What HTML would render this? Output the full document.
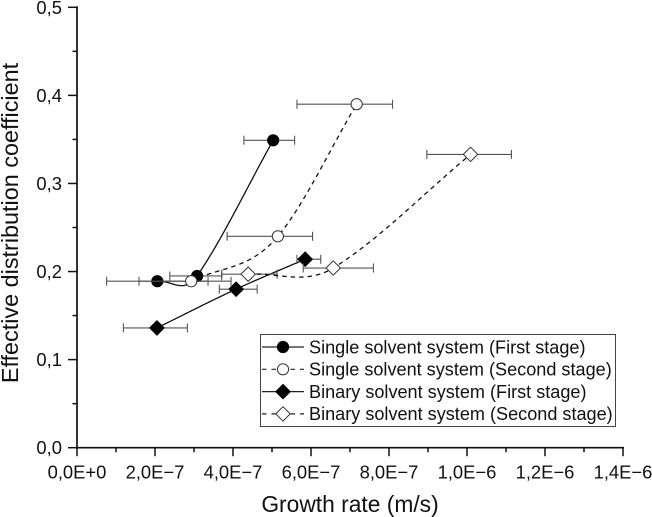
<!DOCTYPE html>
<html lang="en">
<head>
<meta charset="utf-8">
<title>Effective distribution coefficient vs growth rate</title>
<style>
html,body{margin:0;padding:0;background:#fff;}
#chart{display:block;width:652px;height:517px;}
text{font-family:"Liberation Sans",Arial,sans-serif;fill:#111;}
</style>
</head>
<body>
<svg id="chart" xmlns="http://www.w3.org/2000/svg" width="652" height="517" viewBox="0 0 652 517"></svg>
<script>
const xTickValues = [0, 2e-7, 4e-7, 6e-7, 8e-7, 1e-6, 1.2e-6, 1.4e-6];
const xTickLabels = ["0,0E+0", "2,0E\u22127", "4,0E\u22127", "6,0E\u22127", "8,0E\u22127", "1,0E\u22126", "1,2E\u22126", "1,4E\u22126"];
const yTickValues = [0, 0.1, 0.2, 0.3, 0.4, 0.5];
const yTickLabels = ["0,0", "0,1", "0,2", "0,3", "0,4", "0,5"];

const singleFirstX = [2.06e-7, 3.08e-7, 5.03e-7];
const singleFirstY = [0.189, 0.195, 0.349];
const singleFirstLow = [0.76e-7, 2.38e-7, 4.28e-7];
const singleFirstHigh = [3.36e-7, 3.71e-7, 5.58e-7];

const singleSecondX = [2.93e-7, 5.15e-7, 7.17e-7];
const singleSecondY = [0.189, 0.24, 0.39];
const singleSecondLow = [1.59e-7, 3.85e-7, 5.64e-7];
const singleSecondHigh = [3.95e-7, 6.04e-7, 8.09e-7];

const binaryFirstX = [2.05e-7, 4.08e-7, 5.85e-7];
const binaryFirstY = [0.136, 0.18, 0.214];
const binaryFirstLow = [1.19e-7, 3.65e-7, 5.64e-7];
const binaryFirstHigh = [2.83e-7, 4.62e-7, 6.25e-7];

const binarySecondX = [4.39e-7, 6.57e-7, 1.009e-6];
const binarySecondY = [0.197, 0.204, 0.333];
const binarySecondLow = [3.71e-7, 5.8e-7, 8.97e-7];
const binarySecondHigh = [5.13e-7, 7.6e-7, 1.114e-6];

const legendLabels = [
  "Single solvent system (First stage)",
  "Single solvent system (Second stage)",
  "Binary solvent system (First stage)",
  "Binary solvent system (Second stage)"
];
const axisXTitle = "Growth rate (m/s)";
const axisYTitle = "Effective distribution coefficient";

const NS = "http://www.w3.org/2000/svg";
const svg = document.getElementById("chart");
const plotLeft = 77, plotRight = 623, plotTop = 7.3, plotBottom = 447.7;
function sx(v) { return plotLeft + (v / 1.4e-6) * (plotRight - plotLeft); }
function sy(v) { return plotBottom - (v / 0.5) * (plotBottom - plotTop); }

function el(tag, attrs, parent) {
  const n = document.createElementNS(NS, tag);
  for (const k in attrs) n.setAttribute(k, attrs[k]);
  (parent || svg).appendChild(n);
  return n;
}

/* Hermite curve y(x) through the points; interior tangents blend the neighbouring
   chord slopes by weight w, end tangents follow the end chords */
function curvePath(xs, ys, w) {
  const n = xs.length, slopes = [], tangents = [];
  for (let i = 0; i < n - 1; i++) slopes.push((ys[i + 1] - ys[i]) / (xs[i + 1] - xs[i]));
  tangents.push(slopes[0]);
  for (let i = 1; i < n - 1; i++) tangents.push(w * slopes[i - 1] + (1 - w) * slopes[i]);
  tangents.push(slopes[n - 2]);
  let d = "";
  for (let i = 0; i < n - 1; i++) {
    const h = xs[i + 1] - xs[i];
    for (let s = 0; s <= 30; s++) {
      const t = s / 30, t2 = t * t, t3 = t2 * t;
      const x = xs[i] + t * h;
      const y = (2 * t3 - 3 * t2 + 1) * ys[i] + (t3 - 2 * t2 + t) * h * tangents[i] +
        (-2 * t3 + 3 * t2) * ys[i + 1] + (t3 - t2) * h * tangents[i + 1];
      d += (d ? "L" : "M") + x.toFixed(2) + " " + y.toFixed(2);
    }
  }
  return d;
}

function marker(kind, filled, cx, cy, parent, name) {
  const fill = filled ? "#000" : "#fff";
  let m;
  if (kind === "circle") {
    m = el("circle", { cx: cx, cy: cy, r: 5.6, fill: fill, stroke: filled ? "#000" : "#333", "stroke-width": 1 }, parent);
  } else {
    const r = 7.2;
    const pts = (cx) + "," + (cy - r) + " " + (cx + r) + "," + cy + " " + cx + "," + (cy + r) + " " + (cx - r) + "," + cy;
    m = el("polygon", { points: pts, fill: fill, stroke: filled ? "#000" : "#333", "stroke-width": 1 }, parent);
  }
  
  
  return m;
}

const seriesList = [
  { key: "single-first", xs: singleFirstX, ys: singleFirstY, lo: singleFirstLow, hi: singleFirstHigh, kind: "circle", filled: true, dash: null, w: 0.2 },
  { key: "single-second", xs: singleSecondX, ys: singleSecondY, lo: singleSecondLow, hi: singleSecondHigh, kind: "circle", filled: false, dash: "4.5 4", w: 0.42 },
  { key: "binary-first", xs: binaryFirstX, ys: binaryFirstY, lo: binaryFirstLow, hi: binaryFirstHigh, kind: "diamond", filled: true, dash: null, w: 0.5 },
  { key: "binary-second", xs: binarySecondX, ys: binarySecondY, lo: binarySecondLow, hi: binarySecondHigh, kind: "diamond", filled: false, dash: "4.5 4", w: 0.28 }
];

/* axes */
const xAxis = el("g", {});


const yAxis = el("g", {});



const xAxisLine = el("line", { x1: plotLeft - 1, x2: plotRight + 1, y1: plotBottom, y2: plotBottom, stroke: "#111", "stroke-width": 1.7 }, xAxis);


const yAxisLine = el("line", { x1: plotLeft, x2: plotLeft, y1: plotTop - 1, y2: plotBottom + 1, stroke: "#111", "stroke-width": 1.7 }, yAxis);



xTickValues.forEach(function (v, i) {
  const x = sx(v);
  const t = el("line", { x1: x, x2: x, y1: plotBottom, y2: plotBottom + 8.5, stroke: "#111", "stroke-width": 1.5 }, xAxis);
  
  
  const l = el("text", { x: x, y: plotBottom + 31, "text-anchor": "middle", "font-size": 18.4 }, xAxis);
  l.textContent = xTickLabels[i];
  
  
  if (i < xTickValues.length - 1) {
    const mx = sx((v + xTickValues[i + 1]) / 2);
    const mt = el("line", { x1: mx, x2: mx, y1: plotBottom, y2: plotBottom + 4.5, stroke: "#111", "stroke-width": 1.5 }, xAxis);
    
    
  }
});

yTickValues.forEach(function (v, i) {
  const y = sy(v);
  const t = el("line", { x1: plotLeft - 9, x2: plotLeft, y1: y, y2: y, stroke: "#111", "stroke-width": 1.5 }, yAxis);
  
  
  const l = el("text", { x: plotLeft - 15, y: y + 6.5, "text-anchor": "end", "font-size": 18.4 }, yAxis);
  l.textContent = yTickLabels[i];
  
  
  if (i < yTickValues.length - 1) {
    const my = sy((v + yTickValues[i + 1]) / 2);
    const mt = el("line", { x1: plotLeft - 4.5, x2: plotLeft, y1: my, y2: my, stroke: "#111", "stroke-width": 1.5 }, yAxis);
    
    
  }
});

const xTitle = el("text", { x: 350, y: 512, "text-anchor": "middle", "font-size": 22.8 });
xTitle.textContent = axisXTitle;


const yTitle = el("text", { x: 0, y: 0, "text-anchor": "middle", "font-size": 23.4, transform: "translate(18 223) rotate(-90)" });
yTitle.textContent = axisYTitle;



/* error bars, curves, markers */
seriesList.forEach(function (s) {
  const g = el("g", {});
  
  
  s.xs.forEach(function (v, i) {
    const y = sy(s.ys[i]), a = sx(s.lo[i]), b = sx(s.hi[i]);
    const e = el("path", { d: "M" + a + " " + y + "H" + b + "M" + a + " " + (y - 4.5) + "V" + (y + 4.5) + "M" + b + " " + (y - 4.5) + "V" + (y + 4.5), fill: "none", stroke: "#555", "stroke-width": 1.1 }, g);
    
    
  });
  const attrs = { d: curvePath(s.xs.map(sx), s.ys.map(sy), s.w), fill: "none", stroke: "#111", "stroke-width": 1.3 };
  if (s.dash) attrs["stroke-dasharray"] = s.dash;
  const c = el("path", attrs, g);
  
  
  s.g = g;
});
seriesList.forEach(function (s) {
  s.xs.forEach(function (v, i) {
    marker(s.kind, s.filled, sx(v), sy(s.ys[i]), s.g, "data-point");
  });
});

/* legend */
const legend = el("g", {});


const legendBox = el("rect", { x: 260.5, y: 334.5, width: 355, height: 92, fill: "#fff", stroke: "#444", "stroke-width": 1 }, legend);


seriesList.forEach(function (s, i) {
  const y = 347 + i * 22.3;
  const row = el("g", {}, legend);
  
  
  const ln = { x1: 262, x2: 304, y1: y, y2: y, stroke: "#222", "stroke-width": 1.2 };
  if (s.dash) ln["stroke-dasharray"] = "4.5 5";
  const sw = el("line", ln, row);
  
  
  marker(s.kind, s.filled, 283, y, row, "legend-marker");
  const t = el("text", { x: 309, y: y + 6.3, "font-size": 18.1 }, row);
  t.textContent = legendLabels[i];
  
  
});
</script>
</body>
</html>
